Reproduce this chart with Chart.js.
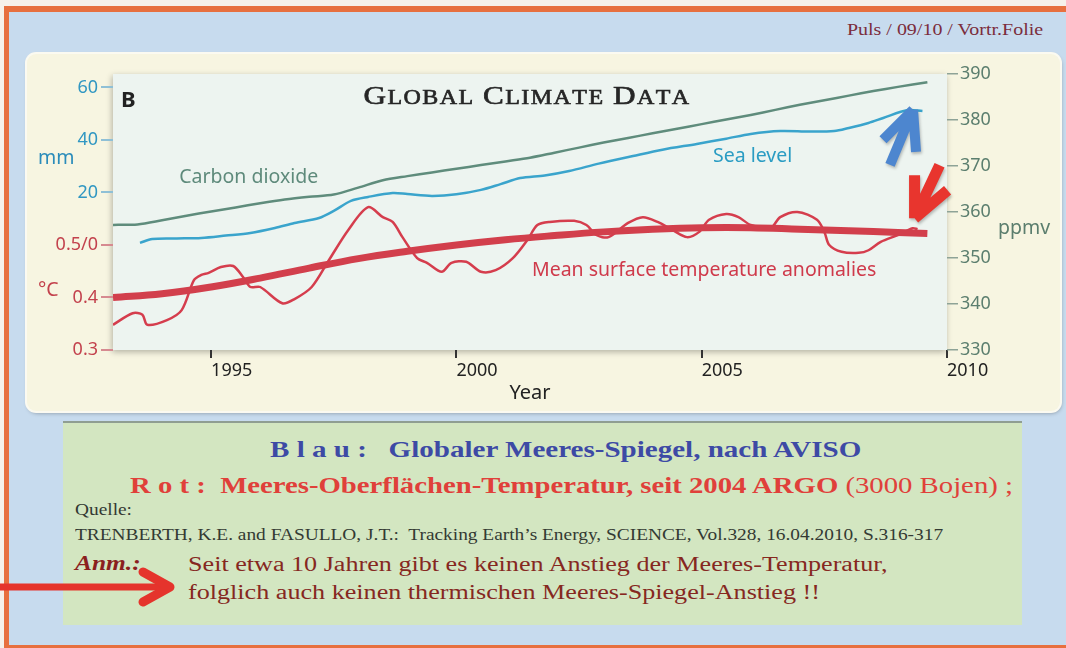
<!DOCTYPE html>
<html lang="de">
<head>
<meta charset="UTF-8">
<title>Global climate data</title>
<script src="https://cdn.jsdelivr.net/npm/chart.js"></script>
<style>
    body {
        margin: 0;
        width: 1066px;
        height: 648px;
        overflow: hidden;
        position: relative;
        background: #f6f1ea;
        font-family: "Liberation Serif", "Times New Roman", serif;
    }
    .slide {
        position: absolute;
        left: 4px; top: 6px; right: -6px; bottom: 0;
        background: #c7dbee;
        border-left: 5px solid #e7703f;
        border-top: 6px solid #e7703f;
        border-right: 5px solid #e7703f;
        border-bottom: 3px solid #e7703f;
    }
    /* the slide is a 4:3 page stretched to wide format */
    .wide { transform: scaleX(1.21); transform-origin: 0 0; }
    .header {
        position: absolute;
        right: 23px; top: 20px;
        font-size: 16.5px;
        color: #7b2d3c;
        transform: scaleX(1.21);
        transform-origin: 100% 0;
    }
    .panel {
        position: absolute;
        left: 27px; top: 54px;
        width: 1033px; height: 357px;
        background: #f7f5e1;
        border-radius: 9px;
        box-shadow: 0 0 0 2px #fbfaf1, 1px 2px 4px rgba(0,0,0,0.35);
    }
    .panel canvas { position: absolute; left: 0; top: -1px; }
    .note {
        position: absolute;
        left: 63px; top: 421px;
        width: 959px; height: 204px;
        background: #d3e6c1;
        border-top: 2px solid #8f9e92;
        box-sizing: border-box;
    }
    .note div { position: absolute; white-space: pre; line-height: 1; }
    .blau { left: 207px; top: 14px; font-size: 24px; font-weight: bold; color: #3d4aa5; }
    .rot { left: 67px; top: 50px; font-size: 24px; font-weight: bold; color: #e0403a; }
    .rot.wide { transform: scaleX(1.197); }
    .rot span { font-weight: normal; }
    .src { left: 12px; font-size: 16px; color: #333a33; }
    .anm { left: 12px; top: 130px; font-size: 21px; font-weight: bold; font-style: italic; color: #8b1f1f; }
    .txt { left: 125px; font-size: 21.6px; color: #86281f; }
    .arrow { position: absolute; left: 0; top: 563px; }
</style>
</head>
<body>
<div class="slide"></div>
<div class="header">Puls / 09/10 / Vortr.Folie</div>

<div class="panel">
    <canvas id="climateChart" width="1033" height="358"></canvas>
</div>

<div class="note">
    <div class="blau wide">B l a u :   Globaler Meeres-Spiegel, nach AVISO</div>
    <div class="rot wide">R o t :  Meeres-Oberflächen-Temperatur, seit 2004 ARGO<span> (3000 Bojen) ;</span></div>
    <div class="src wide" style="top:79px">Quelle:</div>
    <div class="src wide" style="top:104px">TRENBERTH, K.E. and FASULLO, J.T.:  Tracking Earth’s Energy, SCIENCE, Vol.328, 16.04.2010, S.316-317</div>
    <div class="anm wide">Anm.:</div>
    <div class="txt wide" style="top:131px">Seit etwa 10 Jahren gibt es keinen Anstieg der Meeres-Temperatur,</div>
    <div class="txt wide" style="top:159px">folglich auch keinen thermischen Meeres-Spiegel-Anstieg !!</div>
</div>

<svg class="arrow" width="190" height="50">
    <g stroke="#e5342c" stroke-linecap="round" stroke-linejoin="round" fill="none">
        <line x1="0" y1="24" x2="160" y2="24" stroke-width="7"/>
        <polyline points="143,9 170,24 143,39" stroke-width="9"/>
    </g>
</svg>

<script>
    // years on the x axis, values per series
    const co2Years = [1993.0, 1993.5, 1994.0, 1994.5, 1995.0, 1995.5, 1996.0, 1996.5, 1997.0, 1997.5,
        1998.0, 1998.5, 1999.0, 1999.5, 2000.0, 2000.5, 2001.0, 2001.5, 2002.0, 2002.5, 2003.0,
        2003.5, 2004.0, 2004.5, 2005.0, 2005.5, 2006.0, 2006.5, 2007.0, 2007.5, 2008.0, 2008.5,
        2009.0, 2009.6];
    const co2Ppmv = [357.2, 357.3, 358.2, 359.2, 360.1, 361.0, 361.9, 362.7, 363.3, 363.8,
        365.3, 366.9, 367.8, 368.6, 369.4, 370.2, 371.0, 371.8, 372.9, 374.0, 375.1,
        376.1, 377.1, 378.1, 379.1, 380.1, 381.1, 382.2, 383.3, 384.3, 385.3, 386.3,
        387.2, 388.2];

    const seaYears = [1993.55, 1993.8, 1994.3, 1994.8, 1995.3, 1995.8, 1996.3, 1996.7, 1997.2, 1997.5,
        1997.85, 1998.2, 1998.7, 1999.0, 1999.5, 2000.0, 2000.5, 2000.9, 2001.3, 2001.8, 2002.3,
        2002.9, 2003.6, 2004.2, 2004.9, 2005.5, 2006.0, 2006.6, 2007.2, 2007.7, 2008.0, 2008.4,
        2008.7, 2009.2, 2009.5];
    const seaMm = [0.8, 2.3, 2.5, 2.7, 3.6, 4.6, 6.5, 8.4, 10.3, 13.0,
        16.8, 18.3, 19.8, 19.4, 18.7, 19.3, 21.0, 23.2, 25.5, 26.5, 28.2,
        31.0, 33.9, 36.3, 38.5, 40.5, 42.3, 43.4, 43.2, 43.4, 44.6, 46.5,
        48.4, 51.4, 51.0];

    const tempYears = [1993.0, 1993.4, 1993.6, 1993.7, 1994.1, 1994.4, 1994.65, 1994.8, 1994.95, 1995.2,
        1995.45, 1995.65, 1995.8, 1996.0, 1996.45, 1996.7, 1997.05, 1997.4, 1997.8, 1998.2,
        1998.5, 1998.7, 1998.9, 1999.2, 1999.4, 1999.7, 1999.9, 2000.2, 2000.5, 2000.8,
        2001.15, 2001.45, 2001.65, 2001.9, 2002.4, 2002.65, 2002.85, 2003.1, 2003.5, 2003.8,
        2004.1, 2004.4, 2004.7, 2004.95, 2005.15, 2005.5, 2005.75, 2006.0, 2006.4, 2006.6,
        2006.95, 2007.35, 2007.5, 2007.6, 2007.85, 2008.2, 2008.4, 2008.65, 2009.0, 2009.3, 2009.4];
    const tempAnom = [0.348, 0.370, 0.367, 0.348, 0.357, 0.376, 0.433, 0.443, 0.447, 0.458,
        0.460, 0.439, 0.420, 0.420, 0.389, 0.397, 0.420, 0.471, 0.529, 0.572,
        0.553, 0.544, 0.515, 0.475, 0.466, 0.449, 0.466, 0.468, 0.449, 0.452,
        0.475, 0.510, 0.538, 0.544, 0.546, 0.538, 0.519, 0.515, 0.542, 0.553,
        0.544, 0.529, 0.515, 0.525, 0.548, 0.559, 0.553, 0.538, 0.532, 0.553,
        0.563, 0.548, 0.525, 0.500, 0.487, 0.485, 0.490, 0.506, 0.519, 0.532, 0.530];

    const trendYears = [1993, 1994, 1995, 1996, 1997, 1998, 1999, 2000, 2001, 2002,
        2003, 2004, 2005, 2006, 2007, 2008, 2009, 2009.6];
    const trendAnom = [0.400, 0.407, 0.420, 0.437, 0.456, 0.474, 0.488, 0.500, 0.510, 0.518,
        0.525, 0.530, 0.533, 0.533, 0.530, 0.527, 0.524, 0.522];

    const yearTicks = [1995, 2000, 2005, 2010];
    const leftTickValues = [0.3, 0.4, 0.5, 0.6, 0.7, 0.8];
    const leftTickLabels = ['0.3', '0.4', '0.5/0', '20', '40', '60'];
    const ppmvTicks = [330, 340, 350, 360, 370, 380, 390];

    const BLUE = '#3197c2';
    const RED = '#c3424d';
    const GREEN = '#5b7e6e';
    const SANS = '"Noto Sans", "Open Sans", sans-serif';

    // temperature axis carries the mm axis: 0.1 °C == 20 mm, 0.5 °C == 0 mm
    const tMin = 0.3, tMax = 0.8257;
    const toMm = t => (t - 0.5) * 200;

    const pts = (xs, ys) => xs.map((x, i) => ({ x: x, y: ys[i] }));

    // small caps title, stretched horizontally like the rest of the slide
    function drawSmallCaps(ctx, text, cx, y, big, small, gap, sx) {
        const items = [];
        let w = 0;
        for (let i = 0; i < text.length; i++) {
            const ch = text[i];
            if (ch === ' ') { items.push({ font: null, w: small * 0.35 }); w += small * 0.35; continue; }
            const isBig = i === 0 || text[i - 1] === ' ';
            const font = (isBig ? big : small) + 'px "Liberation Serif", serif';
            const up = ch.toUpperCase();
            ctx.font = font;
            const cw = ctx.measureText(up).width + gap;
            items.push({ ch: up, font: font, w: cw });
            w += cw;
        }
        ctx.save();
        ctx.translate(cx, y);
        ctx.scale(sx, 1);
        let x = -w / 2;
        ctx.textAlign = 'left';
        ctx.textBaseline = 'alphabetic';
        ctx.lineWidth = 0.6;
        ctx.strokeStyle = ctx.fillStyle;
        items.forEach(it => {
            if (it.font) {
                ctx.font = it.font;
                ctx.fillText(it.ch, x, 0);
                ctx.strokeText(it.ch, x, 0);
            }
            x += it.w;
        });
        ctx.restore();
    }

    function strokeArrow(ctx, tip, parts, color, width) {
        ctx.save();
        ctx.strokeStyle = color;
        ctx.lineWidth = width;
        ctx.lineCap = 'butt';
        ctx.lineJoin = 'round';
        ctx.shadowColor = 'rgba(0,0,0,0.25)';
        ctx.shadowBlur = 3;
        ctx.shadowOffsetX = 1;
        ctx.shadowOffsetY = 2;
        ctx.beginPath();
        parts.forEach(p => {
            ctx.moveTo(tip.x + p[0], tip.y + p[1]);
            ctx.lineTo(tip.x, tip.y);
        });
        ctx.stroke();
        ctx.restore();
    }

    const decor = {
        id: 'decor',
        beforeDraw(chart) {
            const { ctx, chartArea: a } = chart;
            ctx.save();
            ctx.shadowColor = 'rgba(0,0,0,0.28)';
            ctx.shadowBlur = 6;
            ctx.shadowOffsetX = -1;
            ctx.shadowOffsetY = 2;
            ctx.fillStyle = '#edf4f0';
            ctx.fillRect(a.left, a.top, a.right - a.left, a.bottom - a.top);
            ctx.restore();
        },
        afterDatasetsDraw(chart) {
            const { ctx, chartArea: a, scales } = chart;
            const x = scales.x, yT = scales.yT, ySL = scales.ySL, yC = scales.yC;
            ctx.save();

            ctx.fillStyle = '#222';
            ctx.font = 'bold 22px ' + SANS;
            ctx.textAlign = 'left';
            ctx.textBaseline = 'middle';
            ctx.fillText('B', a.left + 8, a.top + 27);

            ctx.fillStyle = '#262626';
            drawSmallCaps(ctx, 'Global climate data', a.left + 414, a.top + 30, 26, 20, 1.2, 1.2);

            ctx.font = '19.5px ' + SANS;
            ctx.textAlign = 'left';
            ctx.textBaseline = 'middle';
            ctx.fillStyle = '#5e8a7b';
            ctx.fillText('Carbon dioxide', x.getPixelForValue(1994.35), yC.getPixelForValue(367.6));
            ctx.fillStyle = '#2a9cc3';
            ctx.fillText('Sea level', x.getPixelForValue(2005.23), ySL.getPixelForValue(33.9));
            ctx.fillStyle = '#cf3a4b';
            ctx.fillText('Mean surface temperature anomalies', x.getPixelForValue(2001.54), yT.getPixelForValue(0.452));

            ctx.font = '19.5px ' + SANS;
            ctx.fillStyle = '#2b8cba';
            ctx.fillText('mm', 11, ySL.getPixelForValue(33));
            ctx.fillStyle = RED;
            ctx.fillText('°C', 11, yT.getPixelForValue(0.414));
            ctx.fillStyle = GREEN;
            ctx.fillText('ppmv', a.right + 51, yC.getPixelForValue(356.5));

            // annotation arrows at the ends of sea level and temperature
            const seaTip = { x: x.getPixelForValue(2009.45) - 7, y: ySL.getPixelForValue(51.5) };
            strokeArrow(ctx, seaTip, [[-23, 55], [-30, 30], [3, 42]], '#4d86cf', 10);
            const tempTip = { x: x.getPixelForValue(2009.4) - 3, y: yT.getPixelForValue(0.53) - 11 };
            strokeArrow(ctx, tempTip, [[25, -53], [0, -43], [33, -28]], '#e8352e', 11);

            ctx.restore();
        }
    };

    new Chart(document.getElementById('climateChart'), {
        type: 'line',
        data: {
            datasets: [
                {
                    label: 'Mean surface temperature trend',
                    data: pts(trendYears, trendAnom),
                    yAxisID: 'yT',
                    borderColor: '#d23f4c',
                    borderWidth: 7,
                    tension: 0.4
                },
                {
                    label: 'Mean surface temperature anomalies',
                    data: pts(tempYears, tempAnom),
                    yAxisID: 'yT',
                    borderColor: '#d53d4d',
                    borderWidth: 2.5,
                    tension: 0.3
                },
                {
                    label: 'Sea level',
                    data: pts(seaYears, seaMm),
                    yAxisID: 'ySL',
                    borderColor: '#3aa4cc',
                    borderWidth: 2.5,
                    tension: 0.3
                },
                {
                    label: 'Carbon dioxide',
                    data: pts(co2Years, co2Ppmv),
                    yAxisID: 'yC',
                    borderColor: '#5f8c7c',
                    borderWidth: 2.5,
                    tension: 0.3
                }
            ]
        },
        options: {
            responsive: false,
            animation: false,
            devicePixelRatio: 1,
            elements: { point: { radius: 0 } },
            layout: { padding: { top: 21, left: 0, right: 0, bottom: 0 } },
            plugins: {
                legend: { display: false },
                tooltip: { enabled: false }
            },
            scales: {
                x: {
                    type: 'linear',
                    min: 1993,
                    max: 2010,
                    afterBuildTicks: s => { s.ticks = yearTicks.map(v => ({ value: v })); },
                    afterFit: s => { s.height = 61; },
                    border: { display: false },
                    grid: { drawOnChartArea: false, tickLength: 8, color: '#333', lineWidth: 2 },
                    ticks: {
                        align: 'start',
                        maxRotation: 0,
                        autoSkip: false,
                        padding: 2,
                        color: '#222',
                        font: { family: SANS, size: 18 },
                        callback: v => String(v)
                    },
                    title: {
                        display: true,
                        text: 'Year',
                        color: '#222',
                        font: { family: SANS, size: 20 },
                        padding: { top: 2, bottom: 6 }
                    }
                },
                yT: {
                    type: 'linear',
                    position: 'left',
                    min: tMin,
                    max: tMax,
                    afterBuildTicks: s => { s.ticks = leftTickValues.map(v => ({ value: v })); },
                    afterFit: s => { s.width = 86; },
                    border: { display: false },
                    grid: {
                        drawOnChartArea: false,
                        tickLength: 12,
                        lineWidth: 2,
                        color: c => c.index >= 3 ? '#8fc0d6' : '#d68a90'
                    },
                    ticks: {
                        padding: 3,
                        font: { family: SANS, size: 18 },
                        color: c => c.index >= 3 ? BLUE : RED,
                        callback: (v, i) => leftTickLabels[i]
                    }
                },
                ySL: {
                    type: 'linear',
                    display: false,
                    min: toMm(tMin),
                    max: toMm(tMax)
                },
                yC: {
                    type: 'linear',
                    position: 'right',
                    min: 330,
                    max: 390,
                    afterBuildTicks: s => { s.ticks = ppmvTicks.map(v => ({ value: v })); },
                    afterFit: s => { s.width = 113; },
                    border: { display: false },
                    grid: { drawOnChartArea: false, tickLength: 11, lineWidth: 1.5, color: '#8ea397' },
                    ticks: {
                        padding: 2,
                        color: GREEN,
                        font: { family: SANS, size: 18 }
                    }
                }
            }
        },
        plugins: [decor]
    });
</script>
</body>
</html>
